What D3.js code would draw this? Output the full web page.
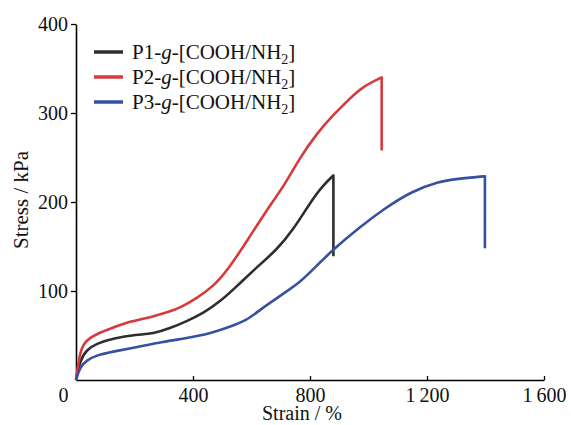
<!DOCTYPE html>
<html>
<head>
<meta charset="utf-8">
<script src="https://cdn.jsdelivr.net/npm/d3@7"></script>
<style>
  body { margin: 0; background: #fff; }
  text { font-family: "Liberation Serif", "Times New Roman", serif; fill: #111; }
</style>
</head>
<body>
<svg id="chart" width="571" height="425"></svg>
<script>
// strain (%) / stress (kPa); last point is the break drop
const p1Data = [[0,0],[14,22],[36,34],[71,41],[128,47],[208,51],[264,52],[321,58],[378,66],[435,75],
  [492,88],[549,105],[612,125],[686,146],[743,169],[800,199],[840,217],[880,230],[880,139]];
const p2Data = [[0,0],[14,34],[36,45],[71,52],[128,59],[185,66],[242,69],[321,77],[355,81],[413,92],
  [469,105],[520,124],[590,159],[652,191],[709,217],[766,250],[823,277],[880,298],[935,316],[982,330],
  [1045,340],[1045,258]];
const p3Data = [[0,0],[14,15],[36,22],[71,28],[128,32],[208,37],[299,43],[378,47],[458,52],[527,60],
  [584,67],[629,79],[700,95],[766,110],[800,121],[880,147],[971,172],[1056,193],[1148,212],[1239,223],
  [1302,226],[1398,229],[1398,148]];
const seriesNames = ["P1", "P2", "P3"];
const seriesColors = ["#2e2e2e", "#d63a3c", "#3551a0"];
const xTicks = [0, 400, 800, 1200, 1600];
const yTicks = [100, 200, 300, 400];

const svg = d3.select("#chart");
const margin = {left: 76, top: 24, right: 27, bottom: 45};
const W = 571, H = 425;

const x = d3.scaleLinear().domain([0, 1600]).range([margin.left, W - margin.right]);
const y = d3.scaleLinear().domain([0, 400]).range([H - margin.bottom, margin.top]);

// axes
const xAxis = svg.append("g")
  .attr("transform", `translate(0,${y(0)})`)
  .call(d3.axisBottom(x).tickValues(xTicks).tickSize(-4).tickSizeOuter(0).tickPadding(8)
    .tickFormat(d => d3.format(",")(d).replace(",", "\u2009")));
xAxis.selectAll("text").style("font-size", "20px").attr("fill", "#111")
  .attr("x", d => d === 0 ? -13 : 0);
xAxis.select(".domain").attr("stroke-width", 1.6);
xAxis.selectAll(".tick line").attr("stroke-width", 1.3);

const yAxis = svg.append("g")
  .attr("transform", `translate(${x(0)},0)`)
  .call(d3.axisLeft(y).tickValues(yTicks).tickSize(5).tickSizeOuter(0).tickPadding(3));
yAxis.selectAll("text").style("font-size", "20px").attr("fill", "#111");
yAxis.select(".domain").attr("stroke-width", 1.6);
yAxis.selectAll(".tick line").attr("stroke-width", 1.3);

svg.append("text")
  .attr("x", (x(0) + x(1600)) / 2 - 8)
  .attr("y", 420)
  .attr("text-anchor", "middle")
  .style("font-size", "20px")
  .text("Strain / %");

svg.append("text")
  .attr("transform", "translate(28,200) rotate(-90)")
  .attr("text-anchor", "middle")
  .style("font-size", "21px")
  .text("Stress / kPa");

// curves: smooth body, straight vertical drop at break
const line = d3.line().x(d => x(d[0])).y(d => y(d[1])).curve(d3.curveBasis);
[p1Data, p2Data, p3Data].forEach((data, i) => {
  const body = data.slice(0, -1);
  const drop = data[data.length - 1];
  svg.append("path")
    .attr("d", line(body) + `L${x(drop[0])},${y(drop[1])}`)
    .attr("fill", "none")
    .attr("stroke", seriesColors[i])
    .attr("stroke-width", 2.6)
    .attr("stroke-linejoin", "round");
});

// legend
const legend = svg.append("g").attr("transform", "translate(94,52)");
const items = legend.selectAll("g").data(seriesNames).enter().append("g")
  .attr("transform", (d, i) => `translate(0,${i * 25})`);
items.append("line")
  .attr("x1", 0).attr("x2", 29).attr("y1", 0).attr("y2", 0)
  .attr("stroke", (d, i) => seriesColors[i])
  .attr("stroke-width", 3.5);
const lt = items.append("text").attr("x", 38).attr("y", 7).style("font-size", "21px");
lt.append("tspan").text(d => d + "-");
lt.append("tspan").style("font-style", "italic").text("g");
lt.append("tspan").text("-[COOH/NH");
lt.append("tspan").attr("dy", 5).style("font-size", "14px").text("2");
lt.append("tspan").attr("dy", -5).text("]");
</script>
</body>
</html>
